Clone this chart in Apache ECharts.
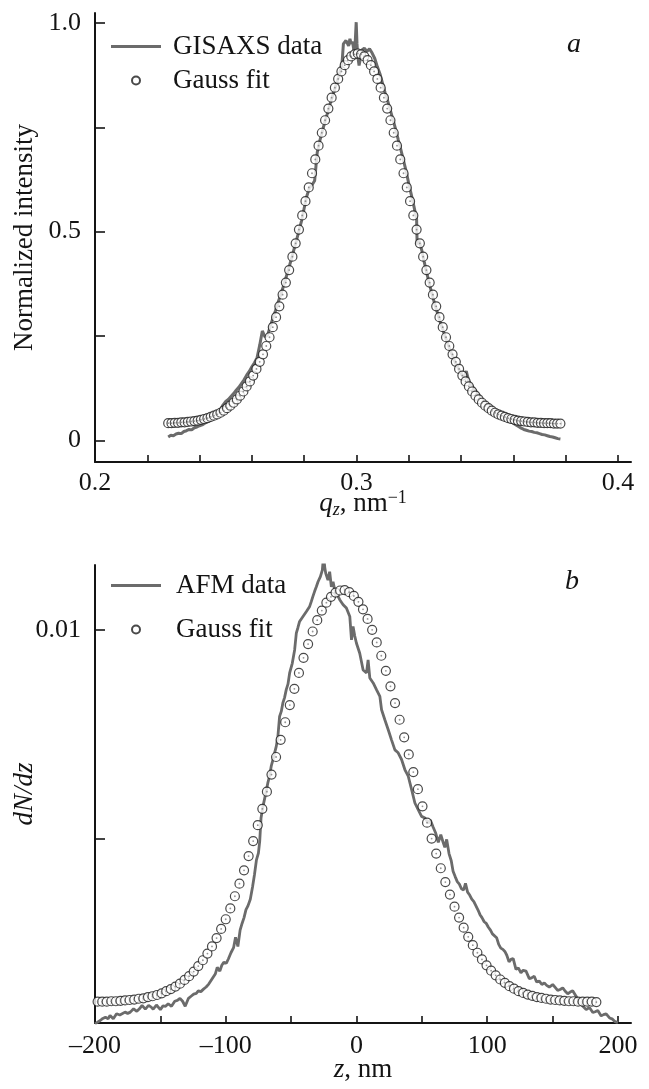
<!DOCTYPE html>
<html>
<head>
<meta charset="utf-8">
<script src="https://cdn.jsdelivr.net/npm/echarts@6/dist/echarts.min.js"></script>
<style>
  html, body { margin: 0; padding: 0; background: #fff; }
  #chart { width: 649px; height: 1089px; }
</style>
</head>
<body>
<div id="chart"></div>
<script>
// Panel a: GISAXS intensity profile along q_z
const gisaxsQ = [
  0.228, 0.229, 0.230, 0.231, 0.232, 0.233, 0.234, 0.235, 0.236, 0.237,
  0.238, 0.239, 0.240, 0.241, 0.242, 0.243, 0.244, 0.245, 0.246, 0.247,
  0.248, 0.249, 0.250, 0.251, 0.252, 0.253, 0.254, 0.255, 0.256, 0.257,
  0.258, 0.259, 0.260, 0.261, 0.262, 0.263, 0.264, 0.265, 0.266, 0.267,
  0.268, 0.269, 0.270, 0.271, 0.272, 0.273, 0.274, 0.275, 0.276, 0.277,
  0.278, 0.279, 0.280, 0.281, 0.282, 0.283, 0.284, 0.285, 0.286, 0.287,
  0.288, 0.289, 0.290, 0.291, 0.292, 0.293, 0.294, 0.2945, 0.295, 0.296,
  0.297, 0.2975, 0.298, 0.2985, 0.299, 0.2995, 0.2999, 0.3002, 0.3005, 0.301,
  0.3015, 0.302, 0.303, 0.304, 0.305, 0.306, 0.307, 0.3075, 0.308, 0.309,
  0.310, 0.311, 0.312, 0.313, 0.314, 0.315, 0.316, 0.317, 0.318, 0.319,
  0.320, 0.321, 0.322, 0.323, 0.3232, 0.324, 0.325, 0.326, 0.327, 0.328,
  0.329, 0.330, 0.331, 0.332, 0.333, 0.334, 0.335, 0.336, 0.337, 0.338,
  0.339, 0.340, 0.341, 0.342, 0.343, 0.344, 0.345, 0.346, 0.347, 0.348,
  0.349, 0.350, 0.351, 0.352, 0.353, 0.354, 0.355, 0.356, 0.357, 0.358,
  0.359, 0.360, 0.361, 0.362, 0.363, 0.364, 0.365, 0.366, 0.367, 0.368,
  0.369, 0.370, 0.371, 0.372, 0.373, 0.374, 0.375, 0.376, 0.377, 0.378
];
const gisaxsIntensity = [
  0.008, 0.012, 0.011, 0.015, 0.017, 0.016, 0.021, 0.023, 0.026, 0.025,
  0.030, 0.032, 0.035, 0.037, 0.041, 0.044, 0.047, 0.052, 0.058, 0.066,
  0.074, 0.085, 0.093, 0.098, 0.105, 0.112, 0.120, 0.127, 0.136, 0.145,
  0.156, 0.165, 0.176, 0.186, 0.198, 0.228, 0.262, 0.248, 0.252, 0.272,
  0.292, 0.310, 0.330, 0.348, 0.368, 0.389, 0.410, 0.432, 0.455, 0.478,
  0.502, 0.526, 0.556, 0.585, 0.605, 0.612, 0.622, 0.690, 0.718, 0.742,
  0.765, 0.786, 0.808, 0.828, 0.848, 0.868, 0.890, 0.905, 0.950, 0.958,
  0.945, 0.962, 0.950, 0.955, 0.935, 0.950, 1.002, 0.950, 0.920, 0.898,
  0.915, 0.935, 0.940, 0.932, 0.938, 0.928, 0.915, 0.918, 0.895, 0.878,
  0.855, 0.832, 0.812, 0.790, 0.768, 0.745, 0.720, 0.696, 0.670, 0.645,
  0.615, 0.588, 0.560, 0.530, 0.470, 0.478, 0.455, 0.425, 0.398, 0.372,
  0.348, 0.325, 0.305, 0.284, 0.266, 0.247, 0.230, 0.214, 0.198, 0.184,
  0.172, 0.160, 0.150, 0.166, 0.140, 0.132, 0.124, 0.115, 0.106, 0.099,
  0.091, 0.085, 0.079, 0.074, 0.069, 0.064, 0.060, 0.055, 0.051, 0.047,
  0.044, 0.041, 0.037, 0.033, 0.029, 0.026, 0.024, 0.022, 0.021, 0.019,
  0.018, 0.016, 0.014, 0.013, 0.011, 0.009, 0.008, 0.006, 0.004, 0.003
];
const gaussQ = [
  0.22800, 0.22925, 0.23050, 0.23175, 0.23300, 0.23425, 0.23550, 0.23675, 0.23800, 0.23925,
  0.24050, 0.24175, 0.24300, 0.24425, 0.24550, 0.24675, 0.24800, 0.24925, 0.25050, 0.25175,
  0.25300, 0.25425, 0.25550, 0.25675, 0.25800, 0.25925, 0.26050, 0.26175, 0.26300, 0.26425,
  0.26550, 0.26675, 0.26800, 0.26925, 0.27050, 0.27175, 0.27300, 0.27425, 0.27550, 0.27675,
  0.27800, 0.27925, 0.28050, 0.28175, 0.28300, 0.28425, 0.28550, 0.28675, 0.28800, 0.28925,
  0.29050, 0.29175, 0.29300, 0.29425, 0.29550, 0.29675, 0.29800, 0.29925, 0.30050, 0.30175,
  0.30300, 0.30425, 0.30550, 0.30675, 0.30800, 0.30925, 0.31050, 0.31175, 0.31300, 0.31425,
  0.31550, 0.31675, 0.31800, 0.31925, 0.32050, 0.32175, 0.32300, 0.32425, 0.32550, 0.32675,
  0.32800, 0.32925, 0.33050, 0.33175, 0.33300, 0.33425, 0.33550, 0.33675, 0.33800, 0.33925,
  0.34050, 0.34175, 0.34300, 0.34425, 0.34550, 0.34675, 0.34800, 0.34925, 0.35050, 0.35175,
  0.35300, 0.35425, 0.35550, 0.35675, 0.35800, 0.35925, 0.36050, 0.36175, 0.36300, 0.36425,
  0.36550, 0.36675, 0.36800, 0.36925, 0.37050, 0.37175, 0.37300, 0.37425, 0.37550, 0.37675,
  0.37800
];
const gaussIntensity = [
  0.041, 0.041, 0.042, 0.042, 0.043, 0.043, 0.044, 0.045, 0.046, 0.047,
  0.049, 0.051, 0.053, 0.056, 0.059, 0.062, 0.066, 0.071, 0.077, 0.083,
  0.090, 0.098, 0.107, 0.117, 0.129, 0.141, 0.155, 0.171, 0.188, 0.206,
  0.226, 0.247, 0.271, 0.295, 0.321, 0.349, 0.378, 0.408, 0.440, 0.472,
  0.505, 0.539, 0.573, 0.606, 0.640, 0.673, 0.706, 0.737, 0.767, 0.795,
  0.821, 0.845, 0.866, 0.884, 0.899, 0.911, 0.920, 0.925, 0.927, 0.925,
  0.920, 0.911, 0.899, 0.884, 0.866, 0.845, 0.821, 0.795, 0.767, 0.737,
  0.706, 0.673, 0.640, 0.606, 0.573, 0.539, 0.505, 0.472, 0.440, 0.408,
  0.378, 0.349, 0.321, 0.295, 0.271, 0.247, 0.226, 0.206, 0.188, 0.171,
  0.155, 0.141, 0.129, 0.117, 0.107, 0.098, 0.090, 0.083, 0.077, 0.071,
  0.066, 0.062, 0.059, 0.056, 0.053, 0.051, 0.049, 0.047, 0.046, 0.045,
  0.044, 0.043, 0.043, 0.042, 0.042, 0.041, 0.041, 0.041, 0.040, 0.040,
  0.040
];
const qTicks = [0.2, 0.22, 0.24, 0.26, 0.28, 0.3, 0.32, 0.34, 0.36, 0.38, 0.4];
const qTickLabels = [0.2, 0.3, 0.4];
const intensityTicks = [0, 0.25, 0.5, 0.75, 1];
const intensityTickLabels = [0, 0.5, 1];

// Panel b: AFM height distribution
const afmZ = [
  -200, -198, -196, -194, -192, -190, -188.5, -186, -183.5, -181,
  -179.5, -177, -175, -173, -170.5, -168, -166, -164, -161.5, -159,
  -157, -155.5, -153, -150, -148, -146, -144, -141.5, -139, -137,
  -135, -133, -131, -128.5, -126.5, -124.5, -122.5, -121, -119, -117,
  -115, -113, -110.5, -108, -106.5, -104.5, -103, -101.5, -99.5, -98,
  -96, -94, -92.5, -90.7, -89, -87.5, -86, -84.5, -83, -81.2,
  -79.5, -78, -76.5, -75, -74, -73, -71.5, -70, -67.8, -66.5,
  -65.2, -63.8, -62.6, -61.3, -60.1, -58.8, -57.5, -56.3, -55, -53.7,
  -52.4, -51.1, -49.1, -47.3, -46, -44.8, -43.5, -42.2, -40.9, -39.6,
  -38.3, -37, -35.8, -34.5, -33.3, -32, -30.7, -29.4, -27.6, -26.1,
  -25.1, -24.3, -23.5, -21.8, -20.5, -19.2, -17.9, -16.6, -15.3, -12.8,
  -10.2, -7.7, -5.1, -3.8, -2.6, -1.3, 0, 2.5, 5.1, 7.7,
  8.9, 10.2, 12.8, 15.3, 17.9, 19.2, 21.7, 24.3, 26.8, 29.4,
  31.9, 34.5, 37, 39.6, 42.2, 44.7, 47.2, 49.8, 52.4, 54.9,
  56.5, 58.7, 60.5, 62.6, 64.5, 66.4, 67.6, 69, 70.8, 72.5,
  73.9, 75.5, 77.1, 78.7, 80.3, 82, 83.4, 85, 86.6, 88.2,
  89.8, 91.4, 93, 94.5, 96, 97.7, 99.3, 100.9, 102.5, 104,
  105.5, 107.2, 108.8, 110.4, 112, 113.5, 115, 116.7, 118.2, 119.9,
  122, 123.8, 125.8, 127.5, 129.7, 132.2, 134, 136, 137.8, 139.9,
  141.8, 143.7, 145.5, 147.5, 150.1, 152, 153.9, 155.8, 157.8, 159.7,
  161.6, 163.5, 165.4, 168, 170, 171.9, 173.8, 175.7, 178.2, 180.8,
  182.6, 184.6, 187.2, 189, 191, 193.6, 195.5, 197.4, 200
];
const afmDensity = [
  0.00058, 0.00062, 0.00066, 0.00071, 0.00074, 0.00070, 0.00078, 0.00070, 0.00082, 0.00079,
  0.00076, 0.00086, 0.00083, 0.00086, 0.00094, 0.00088, 0.00094, 0.00102, 0.00093, 0.00102,
  0.00098, 0.00093, 0.00103, 0.00092, 0.00101, 0.00100, 0.00106, 0.00100, 0.00112, 0.00114,
  0.00119, 0.00112, 0.00100, 0.00119, 0.00124, 0.00129, 0.00131, 0.00137, 0.00135, 0.00141,
  0.00146, 0.00153, 0.00165, 0.00177, 0.00193, 0.00184, 0.00198, 0.00205, 0.00203, 0.00213,
  0.00228, 0.00240, 0.00265, 0.00243, 0.00282, 0.00298, 0.00312, 0.00331, 0.00340, 0.00356,
  0.00385, 0.00415, 0.00450, 0.00466, 0.00495, 0.00550, 0.00578, 0.00600, 0.00634, 0.00650,
  0.00674, 0.00690, 0.00706, 0.00722, 0.00745, 0.00793, 0.00805, 0.00825, 0.00838, 0.00857,
  0.00870, 0.00897, 0.00920, 0.00952, 0.00992, 0.01005, 0.01020, 0.01016, 0.01032, 0.01030,
  0.01044, 0.01041, 0.01056, 0.01068, 0.01080, 0.01092, 0.01103, 0.01115, 0.01127, 0.01143,
  0.01179, 0.01150, 0.01135, 0.01119, 0.01139, 0.01103, 0.01115, 0.01095, 0.01088, 0.01072,
  0.01060, 0.01052, 0.01032, 0.00976, 0.01008, 0.00985, 0.00968, 0.00944, 0.00904, 0.00897,
  0.00928, 0.00885, 0.00873, 0.00857, 0.00841, 0.00809, 0.00785, 0.00761, 0.00737, 0.00713,
  0.00706, 0.00690, 0.00666, 0.00650, 0.00618, 0.00586, 0.00570, 0.00554, 0.00550, 0.00538,
  0.00545, 0.00528, 0.00515, 0.00492, 0.00510, 0.00491, 0.00480, 0.00499, 0.00465, 0.00448,
  0.00423, 0.00410, 0.00398, 0.00392, 0.00381, 0.00378, 0.00394, 0.00373, 0.00366, 0.00356,
  0.00350, 0.00340, 0.00330, 0.00319, 0.00312, 0.00302, 0.00298, 0.00289, 0.00282, 0.00273,
  0.00270, 0.00264, 0.00248, 0.00239, 0.00236, 0.00231, 0.00222, 0.00206, 0.00212, 0.00214,
  0.00188, 0.00192, 0.00180, 0.00186, 0.00184, 0.00166, 0.00168, 0.00172, 0.00158, 0.00160,
  0.00152, 0.00156, 0.00150, 0.00146, 0.00152, 0.00145, 0.00138, 0.00140, 0.00144, 0.00136,
  0.00130, 0.00134, 0.00137, 0.00124, 0.00112, 0.00104, 0.00098, 0.00092, 0.00097, 0.00085,
  0.00087, 0.00090, 0.00077, 0.00080, 0.00082, 0.00072, 0.00070, 0.00064, 0.00061
];
const fitZ = [
  -198, -194.5, -191, -187.5, -184, -180.5, -177, -173.5, -170, -166.5,
  -163, -159.5, -156, -152.5, -149, -145.5, -142, -138.5, -135, -131.5,
  -128, -124.5, -121, -117.5, -114, -110.5, -107, -103.5, -100, -96.5,
  -93, -89.5, -86, -82.5, -79, -75.5, -72, -68.5, -65, -61.5,
  -58, -54.5, -51, -47.5, -44, -40.5, -37, -33.5, -30, -26.5,
  -23, -19.5, -16, -12.5, -9, -5.5, -2, 1.5, 5, 8.5,
  12, 15.5, 19, 22.5, 26, 29.5, 33, 36.5, 40, 43.5,
  47, 50.5, 54, 57.5, 61, 64.5, 68, 71.5, 75, 78.5,
  82, 85.5, 89, 92.5, 96, 99.5, 103, 106.5, 110, 113.5,
  117, 120.5, 124, 127.5, 131, 134.5, 138, 141.5, 145, 148.5,
  152, 155.5, 159, 162.5, 166, 169.5, 173, 176.5, 180, 183.5
];
const fitDensity = [
  0.00111, 0.00111, 0.00111, 0.00112, 0.00112, 0.00113, 0.00114, 0.00115, 0.00116, 0.00118,
  0.00119, 0.00122, 0.00124, 0.00127, 0.00131, 0.00136, 0.00141, 0.00147, 0.00154, 0.00163,
  0.00172, 0.00183, 0.00196, 0.00210, 0.00226, 0.00243, 0.00263, 0.00285, 0.00308, 0.00334,
  0.00363, 0.00393, 0.00425, 0.00459, 0.00495, 0.00533, 0.00572, 0.00613, 0.00654, 0.00696,
  0.00737, 0.00779, 0.00820, 0.00859, 0.00897, 0.00933, 0.00966, 0.00996, 0.01023, 0.01046,
  0.01065, 0.01079, 0.01089, 0.01094, 0.01095, 0.01090, 0.01081, 0.01067, 0.01049, 0.01026,
  0.01000, 0.00970, 0.00938, 0.00902, 0.00865, 0.00825, 0.00785, 0.00743, 0.00702, 0.00660,
  0.00619, 0.00578, 0.00539, 0.00501, 0.00465, 0.00430, 0.00397, 0.00367, 0.00338, 0.00312,
  0.00288, 0.00266, 0.00246, 0.00228, 0.00212, 0.00198, 0.00185, 0.00174, 0.00164, 0.00156,
  0.00148, 0.00142, 0.00136, 0.00132, 0.00128, 0.00125, 0.00122, 0.00120, 0.00118, 0.00116,
  0.00115, 0.00114, 0.00113, 0.00112, 0.00112, 0.00111, 0.00111, 0.00111, 0.00111, 0.00110
];
const zTicks = [-200, -150, -100, -50, 0, 50, 100, 150, 200];
const zTickLabels = [-200, -100, 0, 100, 200];
const densityTicks = [0.005, 0.01];
const densityTickLabels = [0.01];

const FONT = '"Liberation Serif", "Times New Roman", "DejaVu Serif", serif';
const INK = '#141414';
const LINE_GRAY = '#6b6b6b';
// legend swatch for the measured curves: a plain 3px bar, no marker
const LINE_SWATCH = 'path://M0,0H50V3H0Z';

const zip = (xs, ys) => xs.map((x, i) => [x, ys[i]]);

function xAxisBase(gridIndex, min, max, ticks, labels, fmt, margin) {
  return {
    type: 'value', gridIndex, min, max,
    splitLine: { show: false },
    axisLine: { show: true, onZero: false, lineStyle: { color: INK, width: 2 } },
    axisTick: { show: true, inside: true, length: 7, customValues: ticks, lineStyle: { color: INK, width: 1.6 } },
    axisLabel: { show: true, customValues: labels, formatter: fmt, margin,
      fontFamily: FONT, fontSize: 26, color: INK },
    nameLocation: 'middle', nameMoveOverlap: false
  };
}
function yAxisBase(gridIndex, min, max, ticks, labels, fmt) {
  return {
    type: 'value', gridIndex, min, max,
    splitLine: { show: false },
    axisLine: { show: true, onZero: false, lineStyle: { color: INK, width: 2 } },
    axisTick: { show: true, inside: true, length: 10, customValues: ticks, lineStyle: { color: INK, width: 1.6 } },
    axisLabel: { show: true, customValues: labels, formatter: fmt, margin: 14,
      fontFamily: FONT, fontSize: 26, color: INK },
    nameLocation: 'middle', nameRotate: 90, nameGap: 55, nameMoveOverlap: false
  };
}

const dash = v => (v < 0 ? '\u2013' + Math.abs(v) : String(v));

const circleStyle = { color: '#ffffff', borderColor: '#1c1c1c', borderWidth: 1.2 };

const option = {
  animation: false,
  backgroundColor: '#ffffff',
  grid: [
    { left: 95, right: 18, top: 13, height: 449, containLabel: false, outerBoundsMode: 'none' },
    { left: 95, right: 18, top: 565, height: 458, containLabel: false, outerBoundsMode: 'none' }
  ],
  xAxis: [
    Object.assign(xAxisBase(0, 0.2, 0.405, qTicks, qTickLabels, v => String(v), 8), {
      name: '{i|q}{s|z}{n|, nm}{p|\u22121}',
      nameGap: 27,
      nameTextStyle: {
        fontFamily: FONT, color: INK, fontSize: 27,
        rich: {
          i: { fontFamily: FONT, fontStyle: 'italic', fontSize: 27, lineHeight: 30, color: INK },
          s: { fontFamily: FONT, fontStyle: 'italic', fontSize: 18, lineHeight: 18, verticalAlign: 'bottom', color: INK },
          n: { fontFamily: FONT, fontSize: 27, lineHeight: 30, color: INK },
          p: { fontFamily: FONT, fontSize: 18, lineHeight: 18, verticalAlign: 'top', color: INK }
        }
      }
    }),
    Object.assign(xAxisBase(1, -200, 210, zTicks, zTickLabels, dash, 10), {
      name: '{i|z}{n|, nm}',
      nameGap: 32,
      nameTextStyle: {
        fontFamily: FONT, color: INK, fontSize: 27,
        rich: {
          i: { fontFamily: FONT, fontStyle: 'italic', fontSize: 27, lineHeight: 30, color: INK },
          n: { fontFamily: FONT, fontSize: 27, lineHeight: 30, color: INK }
        }
      }
    })
  ],
  yAxis: [
    Object.assign(yAxisBase(0, -0.052, 1.024, intensityTicks, intensityTickLabels,
      v => (v === 1 ? '1.0' : String(v))), {
      name: 'Normalized intensity',
      nameTextStyle: { fontFamily: FONT, fontSize: 27, lineHeight: 30, color: INK }
    }),
    Object.assign(yAxisBase(1, 0.0006, 0.01155, densityTicks, densityTickLabels, v => String(v)), {
      name: 'dN/dz',
      nameTextStyle: { fontFamily: FONT, fontStyle: 'italic', fontSize: 27, lineHeight: 30, color: INK }
    })
  ],
  legend: [
    {
      data: [{ name: 'GISAXS data', icon: LINE_SWATCH }, 'Gauss fit'],
      orient: 'vertical', left: 111, top: 33, padding: 0,
      itemWidth: 50, itemHeight: 8, itemGap: 7,
      selectedMode: false,
      textStyle: { fontFamily: FONT, fontSize: 27, lineHeight: 27, color: INK, padding: [0, 0, 0, 7] }
    },
    {
      data: [{ name: 'AFM data', icon: LINE_SWATCH }, 'Gauss fit'],
      orient: 'vertical', left: 111, top: 572, padding: 0,
      itemWidth: 50, itemHeight: 8, itemGap: 17,
      selectedMode: false,
      textStyle: { fontFamily: FONT, fontSize: 27, lineHeight: 27, color: INK, padding: [0, 0, 0, 10] }
    }
  ],
  graphic: [
    { type: 'text', left: 567, top: 31, silent: true,
      style: { text: 'a', font: 'italic 28px ' + FONT, fill: INK } },
    { type: 'text', left: 565, top: 568, silent: true,
      style: { text: 'b', font: 'italic 28px ' + FONT, fill: INK } }
  ],
  series: [
    {
      name: 'GISAXS data', type: 'line', xAxisIndex: 0, yAxisIndex: 0,
      data: zip(gisaxsQ, gisaxsIntensity),
      symbol: 'none', showSymbol: false, z: 2,
      lineStyle: { color: LINE_GRAY, width: 3 }, itemStyle: { color: LINE_GRAY }
    },
    {
      name: 'Gauss fit', type: 'scatter', xAxisIndex: 0, yAxisIndex: 0,
      data: zip(gaussQ, gaussIntensity),
      symbol: 'circle', symbolSize: 9, z: 3, itemStyle: circleStyle
    },
    {
      name: 'fit-centre-a', type: 'scatter', xAxisIndex: 0, yAxisIndex: 0,
      data: zip(gaussQ, gaussIntensity),
      symbol: 'circle', symbolSize: 1.8, z: 4, silent: true,
      itemStyle: { color: '#7a7a7a' }
    },
    {
      name: 'AFM data', type: 'line', xAxisIndex: 1, yAxisIndex: 1,
      data: zip(afmZ, afmDensity),
      symbol: 'none', showSymbol: false, z: 2,
      lineStyle: { color: LINE_GRAY, width: 2.8 }, itemStyle: { color: LINE_GRAY }
    },
    {
      name: 'Gauss fit', type: 'scatter', xAxisIndex: 1, yAxisIndex: 1,
      data: zip(fitZ, fitDensity),
      symbol: 'circle', symbolSize: 9, z: 3, itemStyle: circleStyle
    },
    {
      name: 'fit-centre-b', type: 'scatter', xAxisIndex: 1, yAxisIndex: 1,
      data: zip(fitZ, fitDensity),
      symbol: 'circle', symbolSize: 1.8, z: 4, silent: true,
      itemStyle: { color: '#7a7a7a' }
    }
  ]
};

const chart = echarts.init(document.getElementById('chart'), null, { renderer: 'canvas' });
chart.setOption(option);
</script>
</body>
</html>
